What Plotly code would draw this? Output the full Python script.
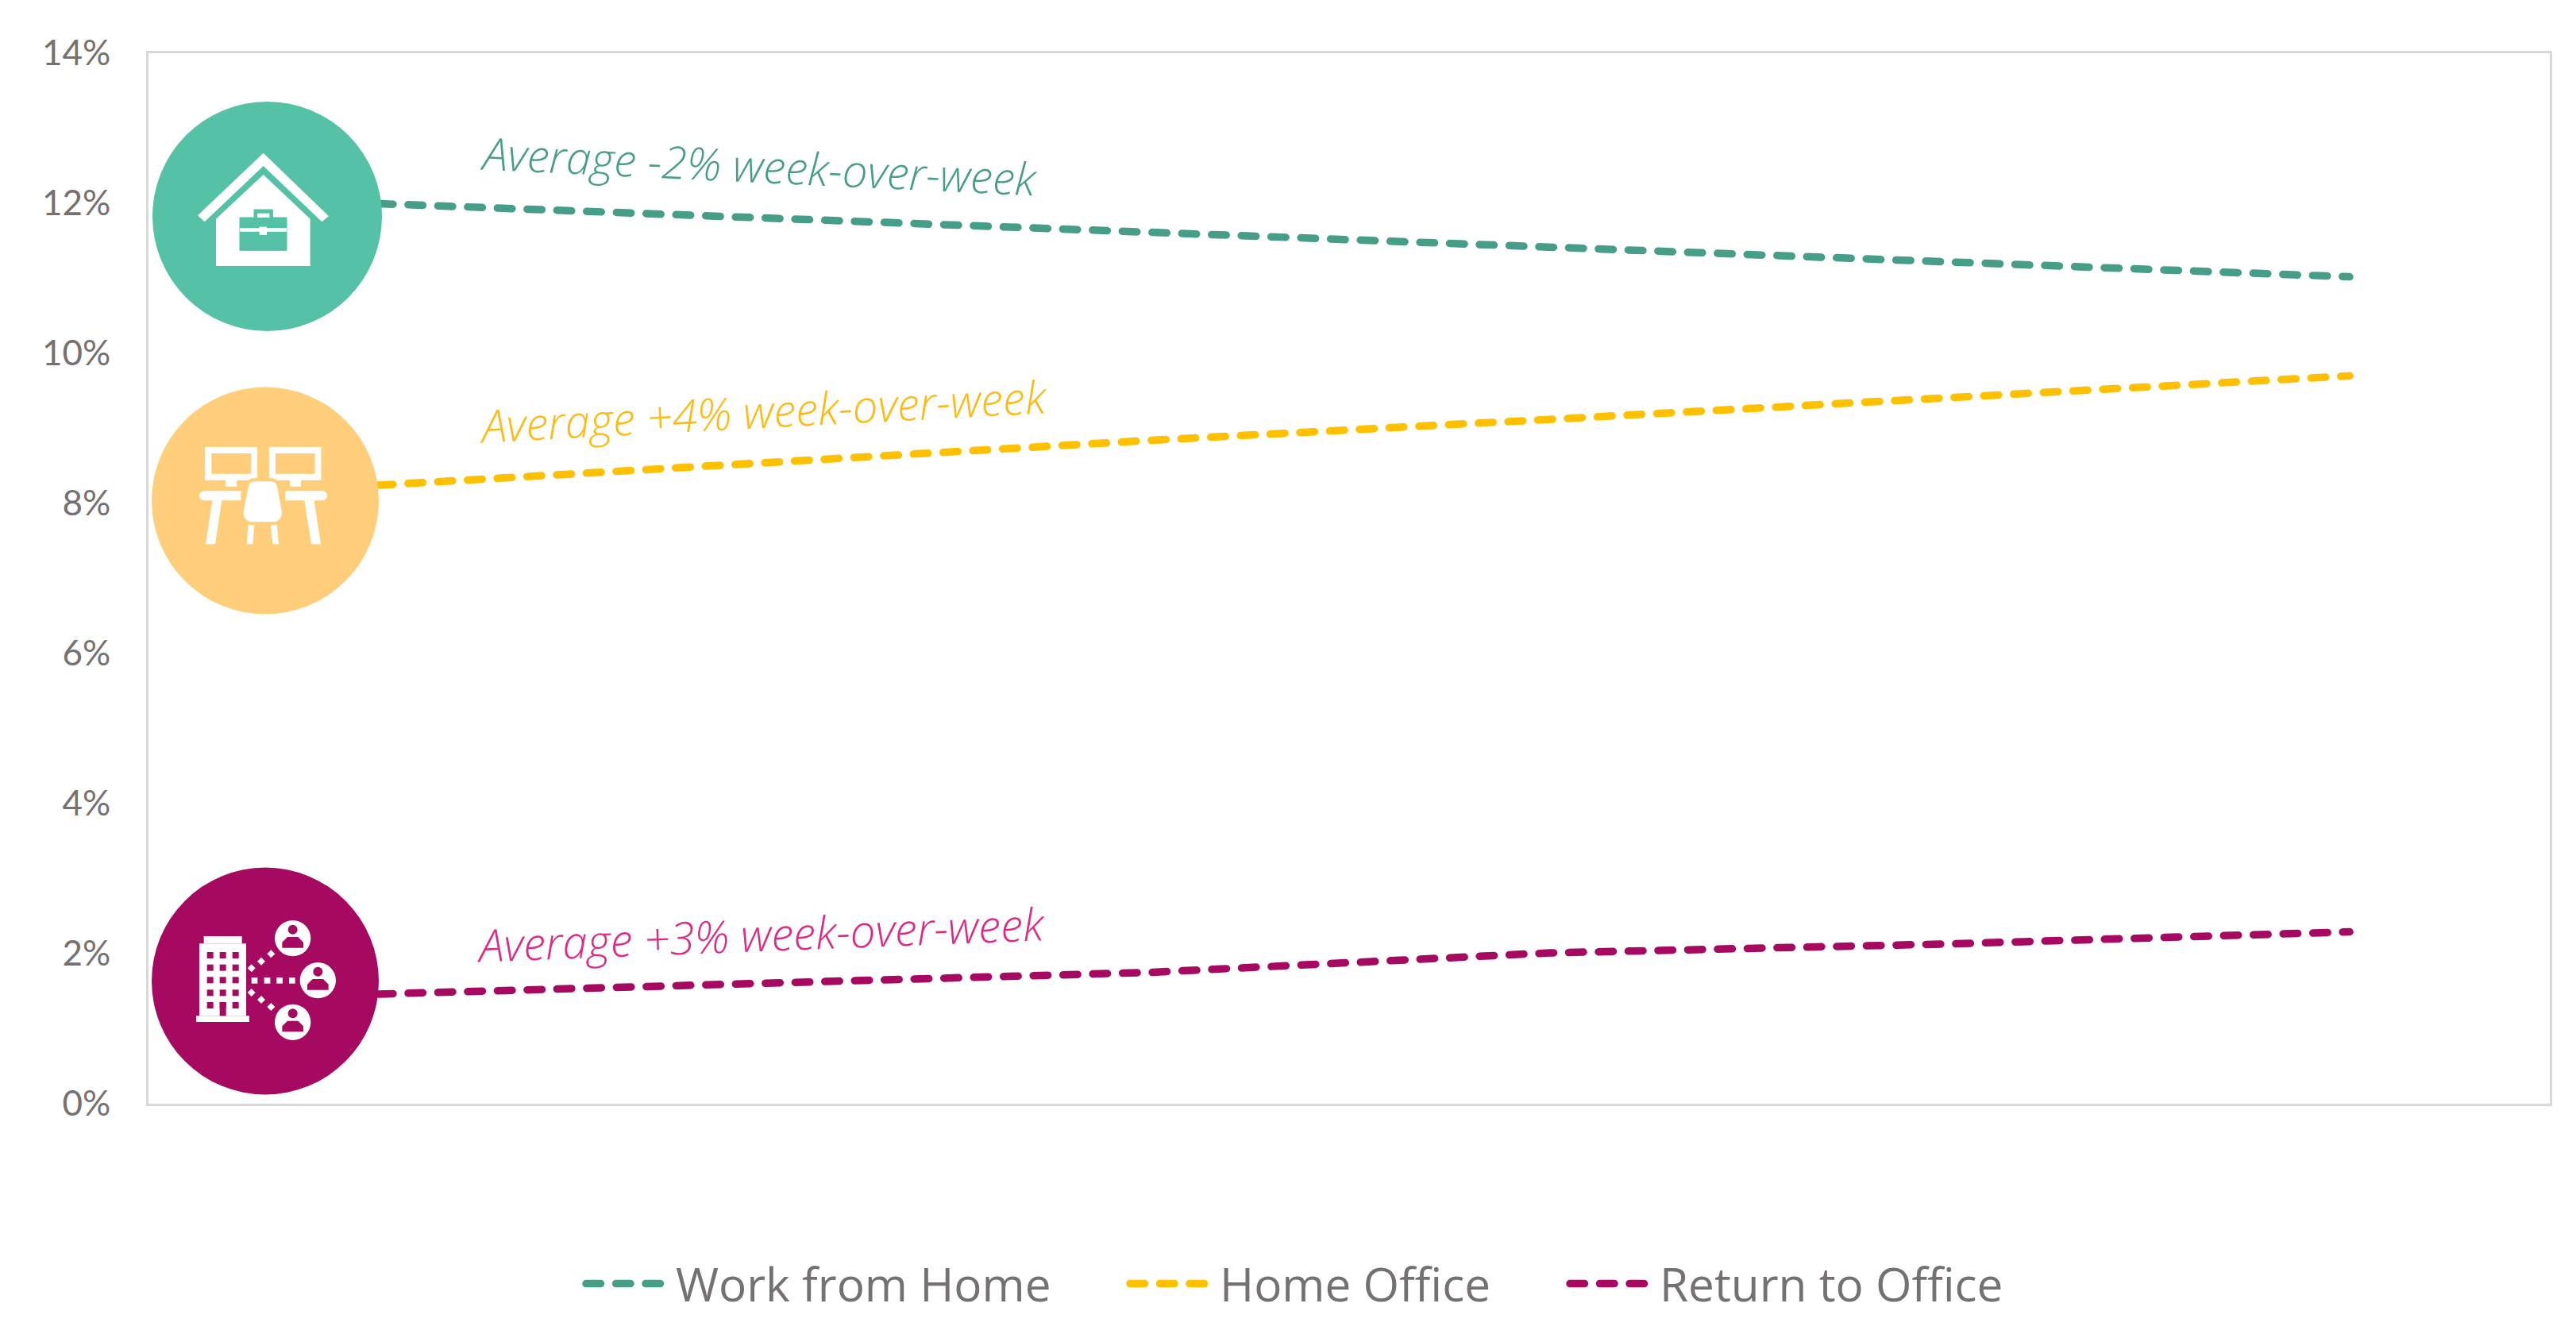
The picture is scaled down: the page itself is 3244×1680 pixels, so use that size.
import plotly.graph_objects as go

weeks = ["Week 1", "Week 2", "Week 3", "Week 4", "Week 5", "Week 6"]
work_from_home = [12.01, 11.81, 11.62, 11.42, 11.22, 11.02]
home_office = [8.22, 8.53, 8.84, 9.12, 9.42, 9.70]
return_to_office = [1.45, 1.61, 1.75, 2.01, 2.13, 2.29]
y_ticks = [0, 2, 4, 6, 8, 10, 12, 14]

GREEN = "#479E88"
GREEN_LIGHT = "#55C1A6"
YELLOW = "#FFC000"
YELLOW_LIGHT = "#FFCE7A"
MAGENTA = "#A50A60"
TEXT = "#767171"
BORDER = "#D9D9D9"

# plot area in page pixels
LEFT, TOP, RIGHT, BOTTOM = 187, 67, 3211, 1390


def px_x(x):
    return (x - LEFT) / (RIGHT - LEFT)


def px_y(y):
    return (BOTTOM - y) / (BOTTOM - TOP)


shapes = []


def poly(points, color, line=None, line_width=0):
    d = "M " + " L ".join(f"{px_x(x)} {px_y(y)}" for x, y in points) + " Z"
    shapes.append(dict(type="path", path=d, xref="paper", yref="paper", fillcolor=color,
                       line=dict(color=line or color, width=line_width)))


def circle(cx, cy, r, color):
    shapes.append(dict(type="circle", xref="paper", yref="paper",
                       x0=px_x(cx - r), x1=px_x(cx + r), y0=px_y(cy + r), y1=px_y(cy - r),
                       fillcolor=color, line=dict(width=0)))


# icons are measured in 3x crops, so each one gets an origin
def zoomed(ox, oy, points):
    return [(ox + x / 3, oy + y / 3) for x, y in points]


def box(ox, oy, x0, y0, x1, y1, color, line_width=0):
    poly(zoomed(ox, oy, [(x0, y0), (x1, y0), (x1, y1), (x0, y1)]), color, line_width=line_width)


# house
ox, oy = 170, 110
circle(336.5, 272.5, 144.5, GREEN_LIGHT)
poly(zoomed(ox, oy, [(485, 248), (732, 487), (706, 508), (485, 297), (263, 508), (237, 484)]), "white")
poly(zoomed(ox, oy, [(485, 330), (662, 497), (662, 675), (306, 675), (306, 497)]), "white")
box(ox, oy, 396, 492, 573, 616, GREEN_LIGHT, 1)
box(ox, oy, 450, 462, 520, 492, GREEN_LIGHT, 1)
box(ox, oy, 462, 476, 508, 492, "white")
box(ox, oy, 396, 532, 573, 545, "white")
box(ox, oy, 470, 527, 498, 558, "white")

# desks
ox, oy = 170, 470
circle(334, 630.5, 143, YELLOW_LIGHT)
for x0, x1 in [(266, 461), (508, 702)]:
    box(ox, oy, x0, 280, x1, 403, "white", 1)
    box(ox, oy, x0 + 23, 303, x1 - 22, 380, YELLOW_LIGHT)
box(ox, oy, 343, 403, 385, 428, "white")
box(ox, oy, 585, 403, 627, 428, "white")
box(ox, oy, 261, 445, 400, 481, "white")
box(ox, oy, 568, 445, 708, 481, "white")
circle(ox + 261 / 3, oy + 463 / 3, 18 / 3, "white")
circle(ox + 708 / 3, oy + 463 / 3, 18 / 3, "white")
poly(zoomed(ox, oy, [(292, 481), (328, 481), (303, 646), (267, 646)]), "white")
poly(zoomed(ox, oy, [(640, 481), (677, 481), (702, 646), (666, 646)]), "white")
poly(zoomed(ox, oy, [(428, 568), (452, 568), (445, 646), (422, 646)]), "white")
poly(zoomed(ox, oy, [(512, 568), (536, 568), (543, 646), (520, 646)]), "white")
poly(zoomed(ox, oy, [(445, 403), (520, 403), (534, 409), (542, 422), (561, 525), (558, 545), (546, 560), (530, 568),
                     (435, 568), (418, 560), (406, 545), (403, 525), (424, 422), (431, 409)]),
     "white", line=YELLOW_LIGHT, line_width=4)

# office
ox, oy = 170, 1070
circle(334, 1235.5, 143, MAGENTA)
box(ox, oy, 243, 355, 420, 628, "white")
box(ox, oy, 260, 327, 404, 355, "white")
box(ox, oy, 231, 628, 432, 651, "white")
for row_y in [387, 434, 481, 529, 576]:
    for col_x in [272, 320, 368]:
        box(ox, oy, col_x, row_y, col_x + 24, row_y + 24, MAGENTA)
box(ox, oy, 320, 576, 344, 628, MAGENTA)
for zx, zy in [(596, 335), (691, 494), (596, 652)]:
    circle(ox + zx / 3, oy + zy / 3, 68 / 3, "white")
    circle(ox + zx / 3, oy + (zy - 33) / 3, 18 / 3, MAGENTA)
    poly(zoomed(ox, oy, [(zx - 40, zy + 36), (zx - 40, zy + 15), (zx - 20, zy - 5),
                         (zx + 20, zy - 5), (zx + 40, zy + 15), (zx + 40, zy + 36)]), MAGENTA)
for zx in [440, 488, 535, 582]:
    box(ox, oy, zx, 483, zx + 23, 506, "white")
for zx, zy in [(440, 448), (477, 422), (514, 394), (440, 540), (477, 567), (514, 594)]:
    poly(zoomed(ox, oy, [(zx, zy - 15), (zx + 15, zy), (zx, zy + 15), (zx - 15, zy)]), "white")

fig = go.Figure()
for name, values, color, legend_id in [("Work from Home", work_from_home, GREEN, "legend"),
                                       ("Home Office", home_office, YELLOW, "legend2"),
                                       ("Return to Office", return_to_office, MAGENTA, "legend3")]:
    fig.add_trace(go.Scatter(x=weeks, y=values, name=name, mode="lines", legend=legend_id, showlegend=True,
                             line=dict(color=color, width=9.5, dash="18.5px,19px")))

for text, x, y, angle, color in [("Average -2% week-over-week", 955, 209, 2.7, GREEN),
                                 ("Average +4% week-over-week", 961, 517, -3, "#FDBA12"),
                                 ("Average +3% week-over-week", 958, 1176, -2.2, "#DE2A82")]:
    fig.add_annotation(text=text, xref="paper", yref="paper", x=px_x(x), y=px_y(y),
                       showarrow=False, textangle=angle, xanchor="center", yanchor="middle",
                       font=dict(family="Open Sans", size=56.5, color=color, style="italic", weight=300))


def legend_at(sample_x):
    return dict(orientation="h", x=px_x(sample_x + 1), y=px_y(1617), xanchor="left", yanchor="middle",
                itemwidth=108, bgcolor="rgba(0,0,0,0)",
                font=dict(family="Open Sans", size=58.5, color=TEXT))


fig.update_layout(
    width=3244, height=1680, autosize=False, showlegend=True,
    margin=dict(l=LEFT, r=3244 - RIGHT, t=TOP, b=1680 - BOTTOM),
    paper_bgcolor="white", plot_bgcolor="white",
    shapes=shapes,
    legend=legend_at(732),
    legend2=legend_at(1417),
    legend3=legend_at(1971),
)
fig.update_xaxes(type="category", categoryorder="array", categoryarray=weeks, range=[-0.5, 5.5],
                 showticklabels=False, ticks="", showgrid=False, zeroline=False,
                 showline=True, mirror=True, linecolor=BORDER, linewidth=3)
fig.update_yaxes(range=[0, 14], tickvals=y_ticks, ticktext=[f"{v}%" for v in y_ticks], showgrid=False, zeroline=False,
                 showline=True, mirror=True, linecolor=BORDER, linewidth=3,
                 ticks="outside", ticklen=36, tickcolor="rgba(0,0,0,0)",
                 tickfont=dict(family="Lato", size=44, color=TEXT))

round_caps = """
document.body.style.margin = '0';
var capStyle = document.createElement('style');
capStyle.textContent = '.js-line { stroke-linecap: round; }';
document.head.appendChild(capStyle);
"""
fig.write_html("out.html", post_script=round_caps, config=dict(displayModeBar=False))
